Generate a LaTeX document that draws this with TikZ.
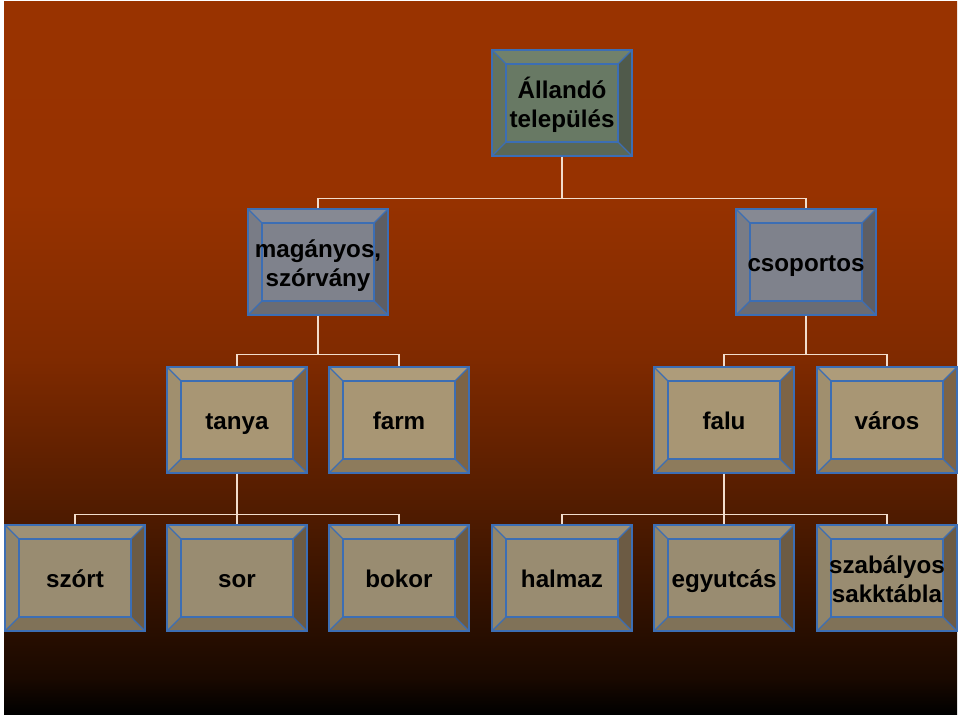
\documentclass[tikz,border=0pt]{standalone}
\usepackage{fontspec}
\setmainfont{Liberation Sans}
% TikZ fits the path to the middle half (25bp..75bp) of the shading
\pgfdeclareverticalshading{bgshade}{100bp}{rgb(0bp)=(0,0,0); rgb(25bp)=(0,0,0); rgb(27.5bp)=(0.1,0.035,0); rgb(39bp)=(0.31,0.106,0); rgb(50bp)=(0.5,0.165,0); rgb(61bp)=(0.59,0.196,0); rgb(75bp)=(0.6,0.2,0); rgb(100bp)=(0.6,0.2,0)}
\definecolor{edgeblue}{RGB}{60,110,180}
\definecolor{connline}{RGB}{242,220,203}
% level A (top, green-grey)
\definecolor{cA}{RGB}{104,121,100}
\definecolor{cAt}{RGB}{113,129,107}
\definecolor{cAl}{RGB}{99,115,95}
\definecolor{cAr}{RGB}{80,90,75}
\definecolor{cAb}{RGB}{90,104,87}
% level B (grey)
\definecolor{cB}{RGB}{127,130,140}
\definecolor{cBt}{RGB}{134,137,147}
\definecolor{cBl}{RGB}{121,124,134}
\definecolor{cBr}{RGB}{94,94,100}
\definecolor{cBb}{RGB}{106,108,116}
% level C (tan)
\definecolor{cC}{RGB}{168,150,116}
\definecolor{cCt}{RGB}{174,156,122}
\definecolor{cCl}{RGB}{160,143,110}
\definecolor{cCr}{RGB}{125,100,70}
\definecolor{cCb}{RGB}{141,123,92}
% level D (grey-tan)
\definecolor{cD}{RGB}{153,140,113}
\definecolor{cDt}{RGB}{158,145,118}
\definecolor{cDl}{RGB}{145,133,106}
\definecolor{cDr}{RGB}{108,91,68}
\definecolor{cDb}{RGB}{128,114,88}
\newcommand{\twoln}[2]{\raisebox{-4pt}[\height][\depth]{\begin{tabular}{@{}c@{}}#1\\#2\end{tabular}}}
\tikzset{
  bevbox/.style n args={5}{rectangle, draw=edgeblue, line width=1.3pt, fill=#1,
    minimum width=140pt, minimum height=106pt, inner sep=0pt,
    font=\bfseries\fontsize{24.2}{29}\selectfont, text=black,
    path picture={
      \coordinate (pA) at (path picture bounding box.north west);
      \coordinate (pB) at (path picture bounding box.north east);
      \coordinate (pC) at (path picture bounding box.south east);
      \coordinate (pD) at (path picture bounding box.south west);
      \coordinate (iA) at ([shift={(14,14)}]pA);
      \coordinate (iB) at ([shift={(-14,14)}]pB);
      \coordinate (iC) at ([shift={(-14,-14)}]pC);
      \coordinate (iD) at ([shift={(14,-14)}]pD);
      \fill[#2] (pA) -- (pB) -- (iB) -- (iA) -- cycle;
      \fill[#3] (pA) -- (iA) -- (iD) -- (pD) -- cycle;
      \fill[#4] (pB) -- (pC) -- (iC) -- (iB) -- cycle;
      \fill[#5] (pD) -- (iD) -- (iC) -- (pC) -- cycle;
      \draw[edgeblue, line width=1.3pt] (iA) rectangle (iC);
      \draw[edgeblue, line width=1.3pt] (pA) -- (iA) (pB) -- (iB) (pC) -- (iC) (pD) -- (iD);
    }},
  lvA/.style={bevbox={cA}{cAt}{cAl}{cAr}{cAb}},
  lvB/.style={bevbox={cB}{cBt}{cBl}{cBr}{cBb}},
  lvC/.style={bevbox={cC}{cCt}{cCl}{cCr}{cCb}},
  lvD/.style={bevbox={cD}{cDt}{cDl}{cDr}{cDb}},
  oneline/.style={text height=18pt, text depth=0pt},
  conn/.style={draw=connline, line width=1.6pt}
}
\begin{document}
\begin{tikzpicture}[x=1pt,y=-1pt]
\useasboundingbox (0,0) rectangle (960,716);
\shade[shading=bgshade] (4,1) rectangle (957,714);

% nodes
\node[lvA] (allando) at (562,103) {\twoln{Állandó}{település}};
\node[lvB] (magany) at (318,262) {\twoln{magányos,}{szórvány}};
\node[lvB, oneline] (csop) at (806,262) {csoportos};
\node[lvC, oneline] (tanya) at (237,420) {tanya};
\node[lvC, oneline] (farm) at (399,420) {farm};
\node[lvC, oneline] (falu) at (724,420) {falu};
\node[lvC, oneline] (varos) at (887,420) {város};
\node[lvD, oneline] (szort) at (75,578) {szórt};
\node[lvD, oneline] (sor) at (237,578) {sor};
\node[lvD, oneline] (bokor) at (399,578) {bokor};
\node[lvD, oneline] (halmaz) at (562,578) {halmaz};
\node[lvD, oneline] (egyutcas) at (724,578) {egyutcás};
\node[lvD] (szabalyos) at (887,578) {\twoln{szabályos}{sakktábla}};

% connectors
\draw[conn] (allando.south) -- ++(0,42) coordinate (j1);
\draw[conn] (magany.north) |- (j1) -| (csop.north);

\draw[conn] (magany.south) -- ++(0,39) coordinate (j2);
\draw[conn] (tanya.north) |- (j2) -| (farm.north);

\draw[conn] (csop.south) -- ++(0,39) coordinate (j3);
\draw[conn] (falu.north) |- (j3) -| (varos.north);

\draw[conn] (tanya.south) -- ++(0,41) coordinate (j4);
\draw[conn] (szort.north) |- (j4) -| (bokor.north);
\draw[conn] (j4) -- (sor.north);

\draw[conn] (falu.south) -- ++(0,41) coordinate (j5);
\draw[conn] (halmaz.north) |- (j5) -| (szabalyos.north);
\draw[conn] (j5) -- (egyutcas.north);
\end{tikzpicture}
\end{document}
